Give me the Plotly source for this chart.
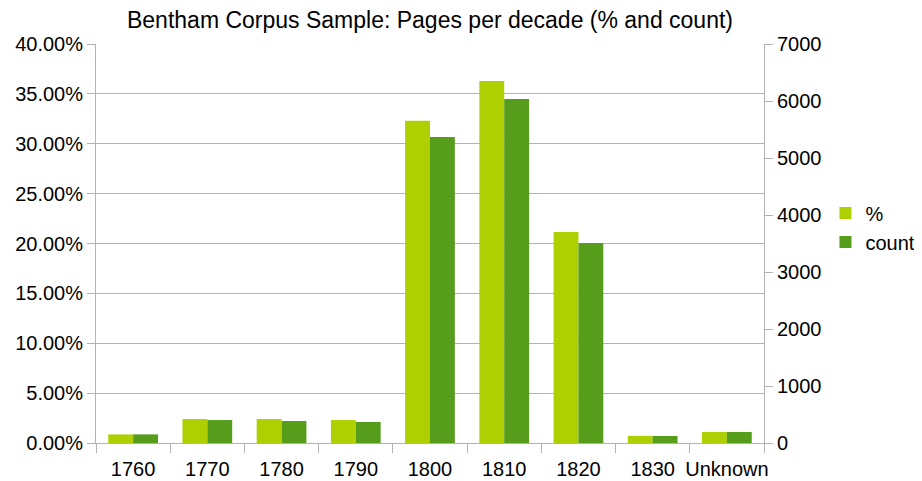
import plotly.graph_objects as go

decades = ["1760", "1770", "1780", "1790", "1800", "1810", "1820", "1830", "Unknown"]
pct_values = [0.0086, 0.024, 0.024, 0.023, 0.323, 0.363, 0.2115, 0.0072, 0.011]
count_values = [151, 403, 386, 368, 5368, 6035, 3509, 123, 193]

light = "#aecf00"
dark = "#579d1c"
grid = "#b3b3b3"
font = "Liberation Sans, Arial, sans-serif"

fig = go.Figure()
fig.add_trace(go.Bar(x=decades, y=pct_values, name="%", marker_color=light,
                     marker_line_width=0, offsetgroup="a", yaxis="y"))
fig.add_trace(go.Bar(x=decades, y=count_values, name="count", marker_color=dark,
                     marker_line_width=0, offsetgroup="b", yaxis="y2"))

fig.update_layout(
    width=914, height=473,
    margin=dict(l=88, r=158, t=36, b=38, autoexpand=False),
    paper_bgcolor="white", plot_bgcolor="white",
    font=dict(family=font, size=20, color="#000000"),
    title=dict(text="Bentham Corpus Sample: Pages per decade (% and count)",
               x=0.5, xref="paper", xanchor="center", y=0.974, yanchor="middle",
               font=dict(size=23, color="#000000")),
    barmode="group", bargap=0.33, bargroupgap=0,
    showlegend=True,
    legend=dict(x=1.092, xanchor="left", y=0.54, yanchor="middle",
                font=dict(size=20), itemwidth=30, tracegroupgap=2,
                bgcolor="rgba(0,0,0,0)"),
    xaxis=dict(type="category", showline=True, linecolor=grid, linewidth=1,
               ticks="outside", tickson="boundaries", ticklen=9, tickcolor=grid,
               ticklabelstandoff=8,
               showgrid=False, mirror=False, tickangle=0, automargin=False),
    yaxis=dict(range=[0, 0.4], dtick=0.05, tickformat=".2%", showgrid=True,
               gridcolor=grid, gridwidth=1, showline=True, linecolor=grid,
               ticks="outside", ticklen=8, tickcolor=grid, zeroline=False,
               automargin=False),
    yaxis2=dict(range=[0, 7000], dtick=1000, overlaying="y", side="right",
                showgrid=False, showline=True, linecolor=grid,
                ticks="outside", ticklen=8, tickcolor=grid, zeroline=False,
                automargin=False),
)

fig.write_html("out.html")
